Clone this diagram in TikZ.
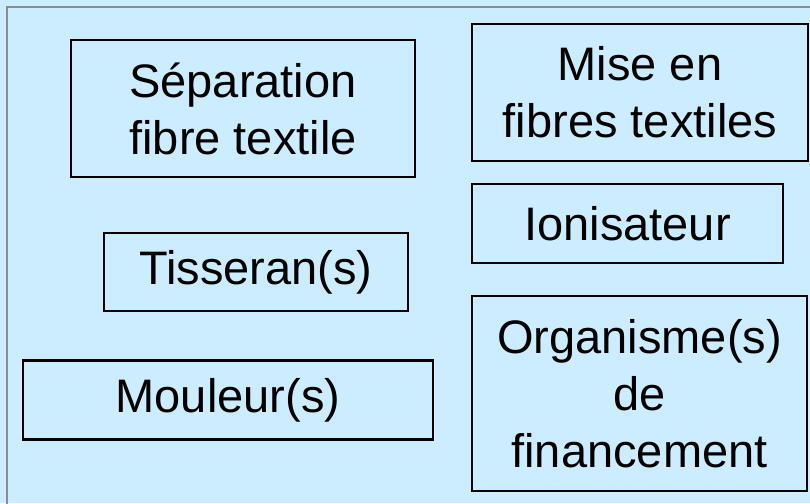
\documentclass[tikz,border=0pt]{standalone}
\usepackage{fontspec}
\setmainfont{Liberation Sans}
\usepackage{xcolor}

\definecolor{fond}{HTML}{CCECFF}
\definecolor{cadre}{HTML}{8C8C8C}

\begin{document}
\begin{tikzpicture}[
    x=1pt, y=-1pt,
    font=\fontsize{47}{57}\selectfont,
    boite/.style={draw=black, line width=2.2pt, align=center, inner sep=0pt,
                  minimum width=#1},
    line width=1.2pt
]

    % Background
    \useasboundingbox (0,0) rectangle (810,503);
    \clip (0,0) rectangle (810,503);
    \fill[fond] (0,0) rectangle (810,503);
    \draw[cadre, line width=2.6pt] (7,7) rectangle (830,530);

    % Left column
    \node[boite=344pt, minimum height=137pt] (separation) at (243,108.5)
        {Séparation\\fibre textile};
    \node[boite=304pt, minimum height=78pt] (tisseran) at (256,272)
        {Tisseran(s)};
    \node[boite=410pt, minimum height=79pt] (mouleur) at (228,400)
        {Mouleur(s)};

    % Right column
    \node[boite=336pt, minimum height=137pt] (miseenfibres) at (640,92.5)
        {Mise en\\fibres textiles};
    \node[boite=311pt, minimum height=79pt] (ionisateur) at (627.5,223.5)
        {Ionisateur};
    \node[boite=335pt, minimum height=195pt] (organisme) at (639.5,393.5)
        {Organisme(s)\\de\\financement};

\end{tikzpicture}
\end{document}
